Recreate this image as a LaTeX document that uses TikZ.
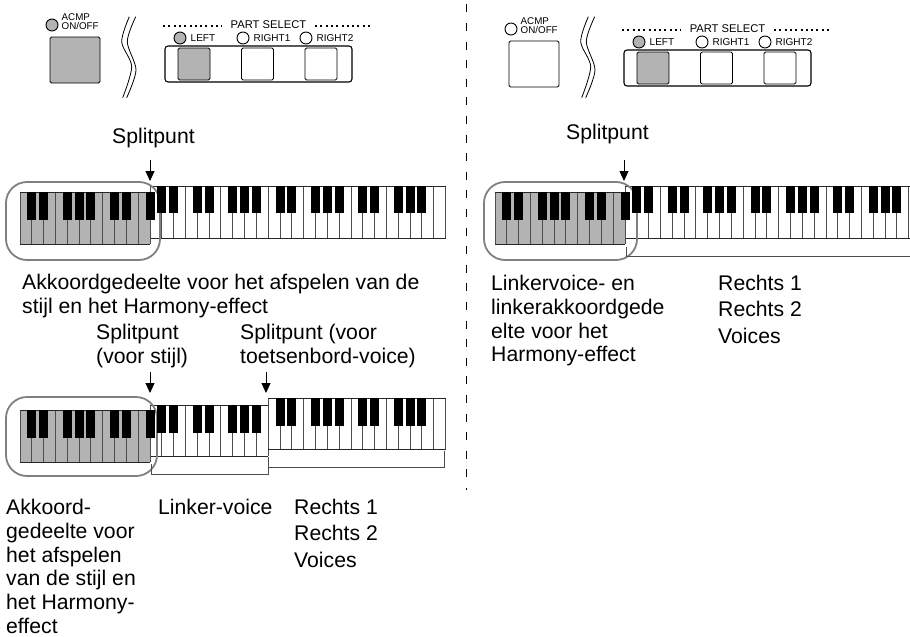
\documentclass[tikz,border=0pt]{standalone}
\usepackage{fontspec}
\setmainfont{Liberation Sans}
\usetikzlibrary{arrows.meta,positioning}
\definecolor{keygrey}{HTML}{B3B3B3}
\definecolor{ringgrey}{HTML}{808080}
\definecolor{sepgrey}{HTML}{4D4D4D}

% white keys from number #2 to #3, #1 fill, #4 top, #5 bottom, #6 left edge
\newcommand{\whitekeys}[6]{
  \fill[#1] ({#6+11.82*#2},#4) rectangle ({#6+11.82*#3},#5);
  \foreach \k in {#2,...,#3}
    \draw[sepline] ({#6+11.82*\k},#4) -- ({#6+11.82*\k},#5);
  \draw[edgeline] ({#6+11.82*#2},#5) -- ({#6+11.82*#3},#5);
  \draw[edgeline] ({#6+11.82*#2},#4) -- ({#6+11.82*#3},#4);
}
% black keys above numbers #1 to #2, #3 top, #4 bottom, #5 left edge
\newcommand{\blackkeys}[5]{
  \foreach \k in {#1,...,#2}{
    \pgfmathtruncatemacro{\m}{mod(\k,7)}
    \ifnum\m=0 \else\ifnum\m=3 \else
      \fill[black] ({#5+11.82*\k-4.5},#3) rectangle ({#5+11.82*\k+4.5},#4);
    \fi\fi
  }
}
% ACMP button and the PART SELECT row, #1 name prefix, #2 fill of the ACMP parts
\newcommand{\panelrow}[2]{
  \node[lamp=#2] (#1acmplamp) at (52,25) {};
  \node[smalltxt, font=\fontsize{9.8}{8.8}\selectfont, align=left, anchor=west] (#1acmptxt) at (61.5,21.5) {ACMP\\ON/OFF};
  \node[panelbtn=#2, minimum width=50pt, minimum height=46pt] (#1acmpbtn) at (75,60) {};
  \node[smalltxt, font=\fontsize{11.2}{11}\selectfont] (#1parttxt) at (268.5,25) {PART SELECT};
  \draw[dotline] (163,26) -- (222,26);
  \draw[dotline] (315,26) -- (372,26);
  \node[lamp=keygrey] (#1leftlamp) at (180,38) {};
  \node[lamp=white] (#1rightalamp) at (243,38) {};
  \node[lamp=white] (#1rightblamp) at (306,38) {};
  \node[smalltxt, anchor=west] (#1lefttxt) at (190.5,38) {LEFT};
  \node[smalltxt, anchor=west] (#1rightatxt) at (253.5,38) {RIGHT1};
  \node[smalltxt, anchor=west] (#1rightbtxt) at (316.5,38) {RIGHT2};
  \node[draw, line width=1.1pt, rounded corners=3pt, minimum width=187pt, minimum height=36pt, inner sep=0pt] (#1partbox) at (258.5,64) {};
  \node[panelbtn=keygrey] (#1leftbtn) at (194,64) {};
  \node[panelbtn=white] (#1rightabtn) at (257.5,64) {};
  \node[panelbtn=white] (#1rightbbtn) at (321,64) {};
}

\begin{document}
\begin{tikzpicture}[x=1pt, y=-1pt,
  lamp/.style={circle, draw, line width=0.9pt, fill=#1, minimum size=12pt, inner sep=0pt},
  panelbtn/.style={rectangle, rounded corners=1.5pt, draw, line width=0.9pt, fill=#1, minimum width=32pt, minimum height=32pt, inner sep=0pt},
  smalltxt/.style={font=\fontsize{10}{10}\selectfont, inner sep=0pt},
  txt/.style={font=\fontsize{21.2}{23.8}\selectfont, align=left, anchor=north west, inner sep=0pt},
  txtwide/.style={font=\fontsize{21.2}{26.4}\selectfont, align=left, anchor=north west, inner sep=0pt},
  dotline/.style={line width=2pt, dash pattern=on 2pt off 3.3pt},
  sepline/.style={sepgrey, line width=0.9pt},
  edgeline/.style={black!85, line width=1pt},
  ring/.style={ringgrey, line width=1.8pt, rounded corners=21pt},
  arr/.style={-{Triangle[width=9pt,length=10pt]}, line width=0.9pt},
  bracket/.style={sepgrey, line width=1pt},
  wave/.style={line width=0.8pt}
]
  \useasboundingbox (0,0) rectangle (910,637);
  \clip (0,0) rectangle (910,637);
  \draw[line width=0.8pt, dash pattern=on 8pt off 10.6pt] (466,-14.3) -- (466,490);

  % left top row
  \panelrow{a}{keygrey}
  \draw[wave] plot[smooth] coordinates {(129.3,16.7) (121.7,41.7) (131.7,66.7) (122.7,97.7)};
  \draw[wave] plot[smooth] coordinates {(135.7,16.7) (127.3,41.7) (136,70) (126.7,97.7)};
  % right top row
  \begin{scope}[shift={(459,4)}]
    \panelrow{b}{white}
  \end{scope}
  \draw[wave] plot[smooth] coordinates {(588.3,16.7) (580.7,41.7) (590.7,66.7) (581.7,97.7)};
  \draw[wave] plot[smooth] coordinates {(594.7,16.7) (586.3,41.7) (595,70) (585.7,97.7)};

  % left keyboard
  \whitekeys{white}{11}{36}{186}{238}{20}
  \whitekeys{keygrey}{0}{11}{192}{244}{20}
  \draw[ring] (6,182) rectangle (160,260);
  \blackkeys{1}{11}{192}{220}{20}
  \blackkeys{12}{35}{186}{213}{20}
  \node[txt] (splita) at (112,128) {Splitpunt};
  \coordinate (arrastart) at (150,160);
  \coordinate (arraend) at (150,181);
  \draw[arr] (arrastart) -- (arraend);
  \node[txt] (chorda) at (22,274) {Akkoordgedeelte voor het afspelen van de\\stijl en het Harmony-effect};

  % right keyboard
  \whitekeys{white}{11}{36}{186}{238}{495}
  \whitekeys{keygrey}{0}{11}{192}{244}{495}
  \draw[ring] (484,182) rectangle (637,260);
  \blackkeys{1}{11}{192}{220}{495}
  \blackkeys{12}{35}{186}{213}{495}
  \node[txt] (splitb) at (566,124) {Splitpunt};
  \coordinate (arrbstart) at (624,160);
  \coordinate (arrbend) at (624,181);
  \draw[arr] (arrbstart) -- (arrbend);
  \coordinate (brcstart) at (626,247);
  \coordinate (brccorner) at (626,256);
  \coordinate (brcend) at (910,256);
  \draw[bracket] (brcstart) -- (brccorner) -- (brcend);
  \node[txt] (chordb) at (491,275) {Linkervoice- en\\linkerakkoordgede\\elte voor het\\Harmony-effect};
  \node[txtwide] (rechtsb) at (718,275) {Rechts 1\\Rechts 2\\Voices};

  % lower keyboard
  \whitekeys{white}{11}{21}{405}{456}{20}
  \whitekeys{white}{21}{36}{398}{449}{20}
  \whitekeys{keygrey}{0}{11}{410}{462}{20}
  \draw[ring] (6,397) rectangle (157,476);
  \blackkeys{1}{11}{410}{438}{20}
  \blackkeys{12}{20}{405}{433}{20}
  \blackkeys{22}{35}{398}{426}{20}
  \node[txt] (splitc) at (96,324) {Splitpunt\\(voor stijl)};
  \node[txt] (splitd) at (240,324) {Splitpunt (voor\\toetsenbord-voice)};
  \coordinate (arrcstart) at (150,372);
  \coordinate (arrcend) at (150,393);
  \coordinate (arrdstart) at (266,372);
  \coordinate (arrdend) at (266,393);
  \draw[arr] (arrcstart) -- (arrcend);
  \draw[arr] (arrdstart) -- (arrdend);
  \coordinate (brclowa) at (151,464);
  \coordinate (brclowb) at (151,474);
  \coordinate (brclowc) at (268,474);
  \coordinate (brclowd) at (268,457);
  \draw[bracket] (brclowa) -- (brclowb) -- (brclowc) -- (brclowd);
  \coordinate (brchigha) at (268,467);
  \coordinate (brchighb) at (444.5,467);
  \coordinate (brchighc) at (444.5,451);
  \draw[bracket] (brchigha) -- (brchighb) -- (brchighc);
  \node[txt] (chordc) at (6,499) {Akkoord-\\gedeelte voor\\het afspelen\\van de stijl en\\het Harmony-\\effect};
  \node[txt] (linkerc) at (158,499) {Linker-voice};
  \node[txtwide] (rechtsc) at (294,499) {Rechts 1\\Rechts 2\\Voices};
\end{tikzpicture}
\end{document}
